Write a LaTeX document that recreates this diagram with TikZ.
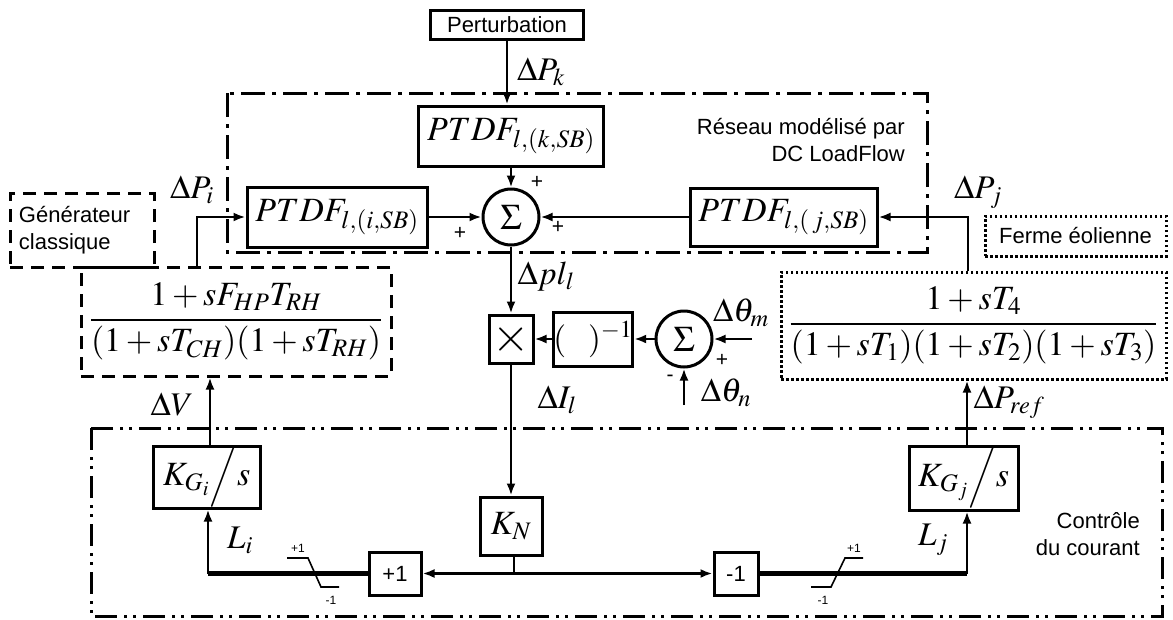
\documentclass[tikz,border=0pt]{standalone}
\usepackage{mathptmx}
\usepackage{fontspec}
\setmainfont{Liberation Serif}
\setsansfont{Liberation Sans}
\usetikzlibrary{arrows.meta}
\newcommand\MyMathL{\fontsize{34}{40}\selectfont}
\newcommand\MyMathM{\fontsize{33}{38}\selectfont}
\newcommand\MyMathF{\fontsize{34}{40}\selectfont}
\newcommand\MySansL{\fontsize{22}{27}\selectfont\sffamily}
\newcommand\MySansS{\fontsize{12}{14}\selectfont\sffamily}
\begin{document}
\begin{tikzpicture}[x=1pt,y=-1pt,
  blk/.style={draw, line width=3pt, fill=white, inner sep=0pt},
  dashbox/.style={draw, line width=3pt, dash pattern=on 13pt off 8pt, inner sep=0pt},
  dotbox/.style={draw, line width=3pt, dash pattern=on 2.5pt off 2.5pt, inner sep=0pt},
  conn/.style={line width=2.6pt, -{Latex[length=12pt,width=9pt]}},
  plainline/.style={line width=2.6pt},
  thickline/.style={line width=5pt},
  netzone/.style={line width=3pt, dash pattern=on 24pt off 7pt on 4pt off 7pt},
  ctrlzone/.style={line width=3pt, dash pattern=on 22pt off 7pt on 3pt off 6pt on 3pt off 7pt},
  lab/.style={font=\MyMathM, inner sep=0pt},
  sgn/.style={font=\fontsize{21}{22}\selectfont\sffamily, inner sep=0pt}
]
\useasboundingbox (0,0) rectangle (1173,619);
\fill[white] (0,0) rectangle (1173,619);

% zones
\draw[netzone] (227,93) rectangle (927,252);
\draw[ctrlzone] (91,428) rectangle (1162,616);
\node[anchor=east, align=right, font=\MySansL, inner sep=0pt] (zonetxt) at (905,140) {Réseau modélisé par\\DC LoadFlow};
\node[anchor=east, align=right, font=\MySansL, inner sep=0pt] (ctrltxt) at (1140,534) {Contrôle\\du courant};

% blocks
\node[blk, minimum width=153pt, minimum height=29pt, font=\MySansL] (pert) at (507,24.5) {Perturbation};
\node[blk, minimum width=185pt, minimum height=60pt, font=\MyMathL] (ptdfk) at (511,136) {$PTDF_{l,(k,SB)}$};
\node[blk, minimum width=180pt, minimum height=60pt, font=\MyMathL] (ptdfi) at (337,217) {$PTDF_{l,(i,SB)}$};
\node[blk, minimum width=187pt, minimum height=58pt, font=\MyMathL] (ptdfj) at (783.5,217) {$PTDF_{l,(\,j,SB)}$};
\node[blk, circle, minimum size=56pt, font=\fontsize{36}{40}\selectfont] (s1) at (511,217) {$\Sigma$};

\node[dashbox, minimum width=144pt, minimum height=74pt, text width=126pt, align=left, font=\MySansL] (gen) at (82,230) {Générateur\\classique};
\node[dashbox, minimum width=310pt, minimum height=109pt, font=\MyMathF] (gentf) at (236,321.5) {$\displaystyle\frac{1+sF_{HP}T_{RH}}{(1+sT_{CH})(1+sT_{RH})}$};
\node[dotbox, minimum width=181pt, minimum height=40pt, font=\MySansL] (ferme) at (1075.5,236) {Ferme éolienne};
\node[dotbox, minimum width=385pt, minimum height=107pt, font=\MyMathF] (windtf) at (973.5,325.5) {$\displaystyle\frac{1+sT_4}{(1+sT_1)(1+sT_2)(1+sT_3)}$};

\node[blk, minimum width=44pt, minimum height=48pt, font=\fontsize{48}{48}\selectfont] (mult) at (511,339) {$\times$};
\node[blk, minimum width=72pt, minimum height=54pt, font=\MyMathM] (inv) at (593,339) {$(\;\;\;)^{-1}$};
\node[blk, circle, minimum size=56pt, font=\fontsize{36}{40}\selectfont] (s2) at (684,339) {$\Sigma$};

\node[blk, minimum width=107pt, minimum height=62pt, font=\MyMathL] (kgi) at (206.5,477) {$K_{G_i}\Big/s$};
\node[blk, minimum width=109pt, minimum height=64pt, font=\MyMathL] (kgj) at (963.5,478) {$K_{G_j}\Big/s$};
\node[blk, minimum width=62pt, minimum height=58pt, font=\MyMathL] (kn) at (511,526) {$K_N$};
\node[blk, minimum width=52pt, minimum height=43pt, font=\MySansL] (p1) at (395,573.5) {+1};
\node[blk, minimum width=44pt, minimum height=43pt, font=\MySansL] (m1) at (736,573.5) {-1};

% connectors
\draw[conn] (pert.south) -- (pert.south |- ptdfk.north);
\draw[conn] (ptdfk.south) -- (s1.north);
\draw[conn] (ptdfi.east) -- (s1.west);
\draw[conn] (ptdfj.west) -- (s1.east);
\draw[conn] ([xshift=-39pt]gentf.north) |- (ptdfi.west);
\draw[conn] ([xshift=-5.5pt]windtf.north) |- (ptdfj.east);
\draw[conn] (s1.south) -- (mult.north);
\draw[conn] (inv.west) -- (mult.east);
\draw[conn] (s2.west) -- (inv.east);
\coordinate (thm) at (752,339);
\coordinate (thn) at (684,405);
\draw[conn] (thm) -- (s2.east);
\draw[conn] (thn) -- (s2.south);
\draw[conn] (mult.south) -- (kn.north);
\draw[conn] ([xshift=3.5pt]kgi.north) -- ([xshift=3.5pt]kgi.north |- gentf.south);
\draw[conn] ([xshift=3.5pt]kgj.north) -- ([xshift=3.5pt]kgj.north |- windtf.south);
\coordinate (jn) at (514,573.5);
\draw[plainline] (kn.south -| jn) -- (jn);
\draw[conn] (jn) -- (p1.east);
\draw[conn] (jn) -- (m1.west);
\coordinate (ci) at (208,573.5);
\coordinate (cj) at (967,573.5);
\draw[thickline] (p1.west) -- (ci);
\draw[conn] (ci) -- (ci |- kgi.south);
\draw[thickline] (m1.east) -- (cj);
\draw[conn] (cj) -- (cj |- kgj.south);

% saturations
\draw[line width=1.6pt] (287,558) -- (308,558) -- (321,587) -- (339,587);
\draw[line width=1.6pt] (811,587) -- (831,587) -- (845,558) -- (863,558);
\node[font=\MySansS, inner sep=0pt] (satia) at (298,548) {+1};
\node[font=\MySansS, inner sep=0pt] (satib) at (331,600) {-1};
\node[font=\MySansS, inner sep=0pt] (satja) at (854,548) {+1};
\node[font=\MySansS, inner sep=0pt] (satjb) at (823,600) {-1};

% labels
\node[lab] (lpk) at (541,72) {$\Delta P_k$};
\node[lab] (lpi) at (192,190) {$\Delta P_i$};
\node[lab] (lpj) at (978,192) {$\Delta P_j$};
\node[lab] (lpl) at (546,276) {$\Delta pl_l$};
\node[lab] (lv) at (172,405) {$\Delta V$};
\node[lab] (lil) at (557,400) {$\Delta I_l$};
\node[lab] (ltm) at (741,313) {$\Delta\theta_m$};
\node[lab] (ltn) at (726,393) {$\Delta\theta_n$};
\node[lab] (lref) at (1009,402) {$\Delta P_{ref}$};
\node[lab] (lli) at (240,540) {$L_i$};
\node[lab] (llj) at (933,540) {$L_j$};

% signs
\node[sgn] (sg1) at (537,182) {+};
\node[sgn] (sg2) at (460,233) {+};
\node[sgn] (sg3) at (558,227) {+};
\node[sgn] (sg4) at (722,360) {+};
\node[sgn] (sg5) at (670,378) {-};
\end{tikzpicture}
\end{document}
